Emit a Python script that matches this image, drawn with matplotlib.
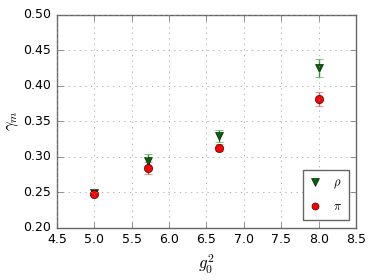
import numpy as np
import matplotlib
matplotlib.use('Agg')
import matplotlib.pyplot as plt

plt.style.use('classic')

# data
g2 = [5.0, 40.0 / 7.0, 20.0 / 3.0, 8.0]
rho = [0.249, 0.294, 0.329, 0.425]
rho_err = [0.002, 0.010, 0.008, 0.013]
pi = [0.248, 0.284, 0.313, 0.381]
pi_err = [0.002, 0.008, 0.005, 0.010]

fig = plt.figure(figsize=(3.74, 2.8), dpi=100)
ax = fig.add_axes([0.152, 0.186, 0.800, 0.762])

eb_rho = ax.errorbar(g2, rho, yerr=rho_err, fmt='v', color='green', mfc='darkgreen',
                     mec='black', mew=0.4, ms=6, ecolor='#22a022', capsize=2.7,
                     elinewidth=1.0, label=r'$\rho$')
eb_pi = ax.errorbar(g2, pi, yerr=pi_err, fmt='o', color='red', mfc='red',
                    mec='black', mew=0.4, ms=6, ecolor='#ff4040', capsize=2.7,
                    elinewidth=1.0, label=r'$\pi$')

ax.set_xlim(4.5, 8.5)
ax.set_ylim(0.2, 0.5)
ax.set_xticks(np.arange(4.5, 8.51, 0.5))
ax.set_yticks(np.arange(0.2, 0.501, 0.05))
ax.grid(True, color='0.6', linestyle=':')
ax.tick_params(labelsize=9, color='0.4')
for s in ax.spines.values():
    s.set_color('0.4')
ax.set_xlabel(r'$g_0^2$', fontsize=12)
ax.set_ylabel(r'$\gamma_m$', fontsize=12, labelpad=2)
leg = ax.legend([eb_rho[0], eb_pi[0]], [r'$\rho$', r'$\pi$'], loc='lower right',
                numpoints=1, fontsize=9, handlelength=0.8, borderpad=0.55,
                labelspacing=0.75, handletextpad=1.0, markerscale=0.85,
                borderaxespad=0.6)
leg.get_frame().set_edgecolor('0.4')

fig.savefig('out.png', dpi=100)
